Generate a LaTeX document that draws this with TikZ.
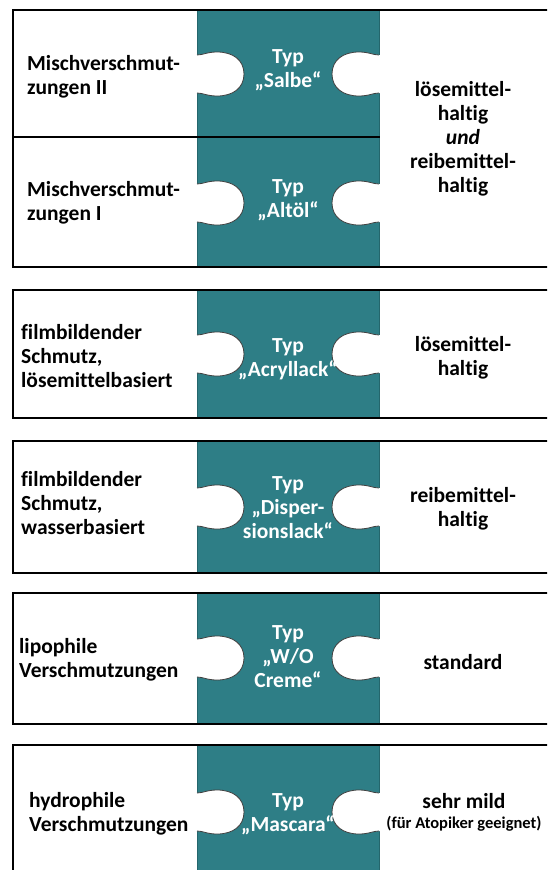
\documentclass[tikz,border=0pt]{standalone}
\usepackage{fontspec}
\setmainfont{Carlito}[Ligatures=NoCommon]
\definecolor{petrol}{HTML}{2E7E86}
\definecolor{petroledge}{HTML}{24666C}
\begin{document}
\begin{tikzpicture}[x=1pt,y=-1pt,
  frame/.style={line width=2.6pt, line cap=rect},
  column/.style={fill=petrol, draw=petroledge, line width=0.6pt},
  knobline/.style={draw=black!75, line width=0.8pt},
  basefont/.style={font=\fontsize{21.5}{24}\selectfont\bfseries, inner sep=0pt},
  lefttext/.style={basefont, anchor=west, align=left},
  midtext/.style={basefont, align=center, text=white},
  righttext/.style={basefont, align=center},
  knob/.pic={
    \fill[white] (-1,-19) -- (0,-19) .. controls (6,-19) and (10,-22) .. (20,-22)
      .. controls (36,-22) and (47,-14) .. (47,0)
      .. controls (47,14) and (36,22) .. (20,22)
      .. controls (10,22) and (6,19) .. (0,19) -- (-1,19) -- cycle;
    \draw[knobline] (0,-19) .. controls (6,-19) and (10,-22) .. (20,-22)
      .. controls (36,-22) and (47,-14) .. (47,0)
      .. controls (47,14) and (36,22) .. (20,22)
      .. controls (10,22) and (6,19) .. (0,19);
  }
]
\clip (0,0) rectangle (547,870);
\fill[white] (0,0) rectangle (547,870);

% petrol middle columns
\path[column] (197,10) rectangle (379,267);
\path[column] (197,290) rectangle (379,418);
\path[column] (197,441) rectangle (379,573);
\path[column] (197,593) rectangle (379,724);
\path[column] (197,745) rectangle (379,880);

% puzzle knobs on both sides of each column
\foreach \cy in {74,203,354,507,658,812}{
  \pic at (197,\cy) {knob};
  \pic[xscale=-1] at (379,\cy) {knob};
}

% frames
\draw[frame] (13,10) rectangle (560,267);
\draw[frame] (13,137) -- (379,137);
\draw[frame] (13,290) rectangle (560,418);
\draw[frame] (13,441) rectangle (560,573);
\draw[frame] (13,593) rectangle (560,724);
\draw[frame] (13,745) rectangle (560,885);

% left column texts
\node[lefttext] (l1) at (27,77) {Mischverschmut-\\zungen II};
\node[lefttext] (l2) at (27,203) {Mischverschmut-\\zungen I};
\node[lefttext] (l3) at (21,356) {filmbildender\\Schmutz,\\lösemittelbasiert};
\node[lefttext] (l4) at (21,503) {filmbildender\\Schmutz,\\wasserbasiert};
\node[lefttext] (l5) at (19,660) {lipophile\\Verschmutzungen};
\node[lefttext] (l6) at (29,814) {hydrophile\\Verschmutzungen};

% middle column texts
\node[midtext] (m1) at (288,70) {Typ\\„Salbe“};
\node[midtext] (m2) at (288,200) {Typ\\„Altöl“};
\node[midtext] (m3) at (288,359) {Typ\\„Acryllack“};
\node[midtext] (m4) at (288,508) {Typ\\„Disper-\\sionslack“};
\node[midtext] (m5) at (288,657) {Typ\\„W/O\\Creme“};
\node[midtext] (m6) at (288,814) {Typ\\„Mascara“};

% right column texts
\node[righttext] (r1) at (463,139) {lösemittel-\\haltig\\\textit{und}\\reibemittel-\\haltig};
\node[righttext] (r2) at (463,358) {lösemittel-\\haltig};
\node[righttext] (r3) at (463,509) {reibemittel-\\haltig};
\node[righttext] (r4) at (463,662) {standard};
\node[righttext] (r5) at (464,812) {sehr mild\\[-4pt]{\fontsize{16.5}{19}\selectfont (für Atopiker geeignet)}};
\end{tikzpicture}
\end{document}
